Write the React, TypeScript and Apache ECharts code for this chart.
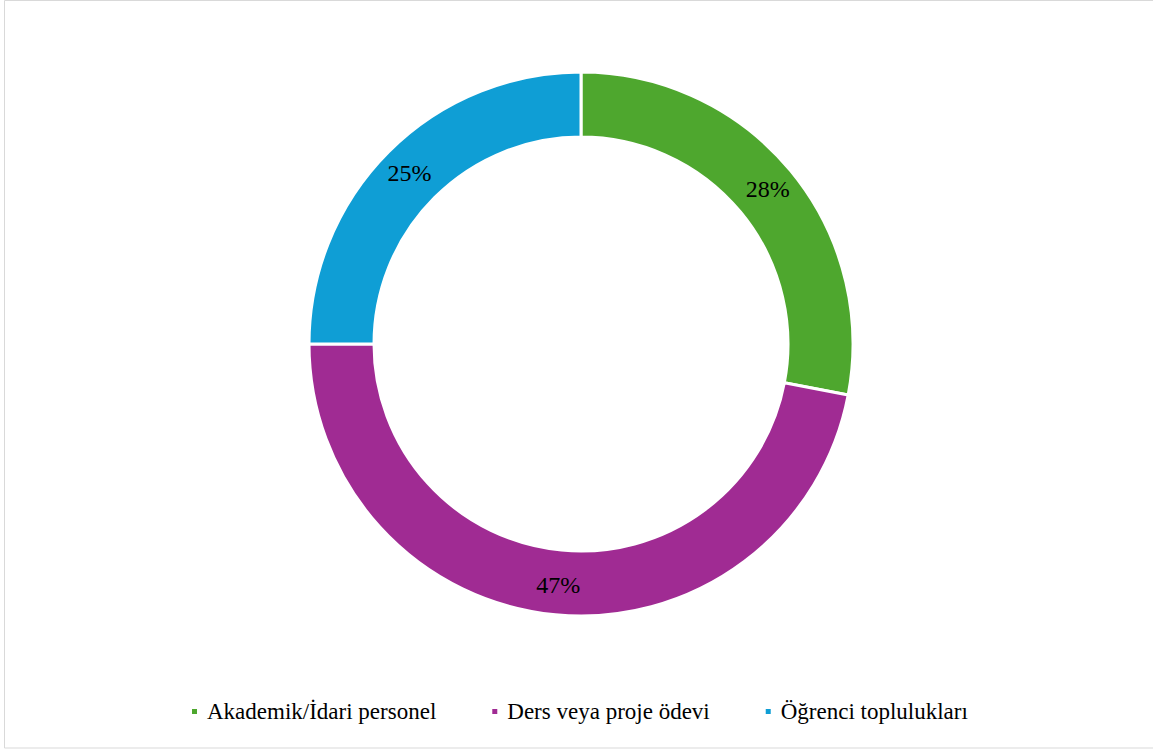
import React, { useEffect, useRef } from "react";
import * as echarts from "echarts";

const categories = ["Akademik/İdari personel", "Ders veya proje ödevi", "Öğrenci toplulukları"];
const values = [28, 47, 25];
const colors = ["#4EA72E", "#A02B93", "#0F9ED5"];

export default function App() {
  const ref = useRef<HTMLDivElement>(null);
  useEffect(() => {
    const chart = echarts.init(ref.current!, null, { renderer: "svg" });
    const font = "Liberation Serif";
    chart.setOption({
      animation: false,
      backgroundColor: "#fff",
      color: colors,
      graphic: [
        {
          type: "rect",
          shape: { x: 4.5, y: 0.5, width: 1150, height: 747.5 },
          style: { fill: "none", stroke: "#d9d9d9", lineWidth: 1 },
          silent: true,
        },
      ],
      legend: {
        top: 700,
        left: 190,
        padding: 0,
        itemWidth: 7,
        itemHeight: 7,
        itemGap: 54,
        icon: "rect",
        textStyle: { fontFamily: font, fontSize: 23, color: "#000", padding: [0, 0, 0, 4] },
        data: categories,
      },
      series: [
        {
          type: "pie",
          center: [581, 344],
          radius: [207, 272],
          startAngle: 90,
          clockwise: true,
          avoidLabelOverlap: false,
          itemStyle: { borderColor: "#fff", borderWidth: 3 },
          label: {
            show: true,
            position: "inside",
            formatter: "{d}%",
            fontFamily: font,
            fontSize: 24,
            color: "#000",
          },
          labelLine: { show: false },
          data: categories.map((c, i) => ({ name: c, value: values[i] })),
        },
      ],
    });
    return () => chart.dispose();
  }, []);
  return (
    <div
      ref={ref}
      style={{ position: "fixed", left: 0, top: 0, width: 1153, height: 751 }}
    />
  );
}
